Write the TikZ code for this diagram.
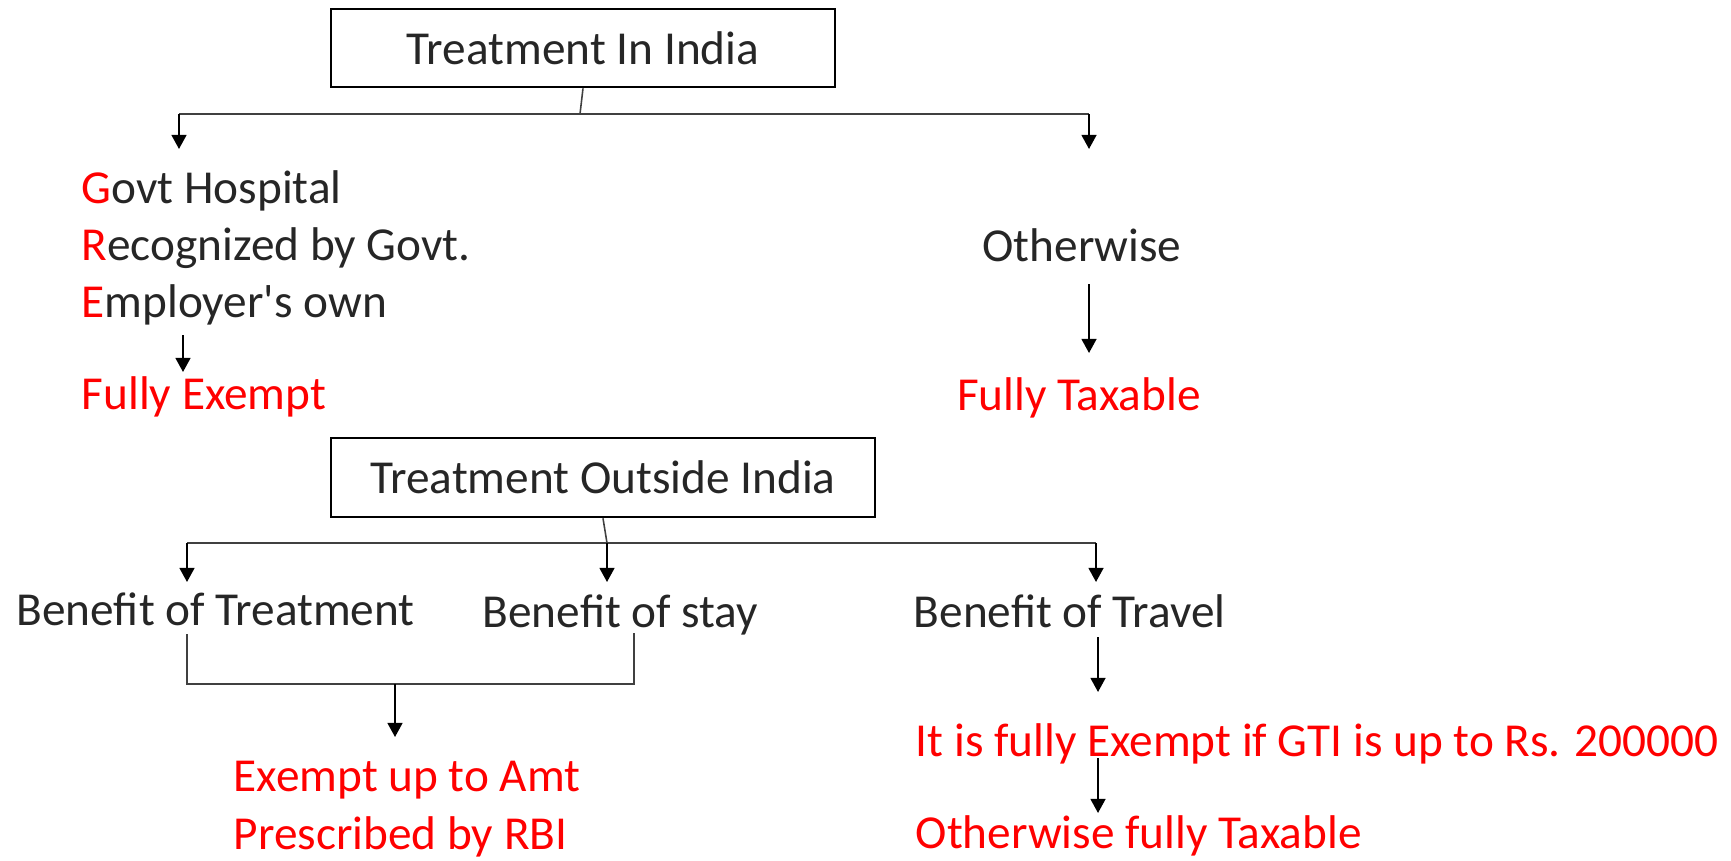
\documentclass[tikz,border=0pt]{standalone}
\usepackage{fontspec}
\setmainfont{Carlito}[Ligatures=TeXOff]
\usetikzlibrary{arrows.meta}
\definecolor{inkgray}{HTML}{262626}
\definecolor{linegray}{HTML}{404040}
\definecolor{hotred}{HTML}{FF0000}
\tikzset{
 headbox/.style={draw=black,line width=0.75pt,inner sep=0pt,text=inkgray},
 lbl/.style={anchor=base west,inner sep=0pt,text=inkgray},
 redlbl/.style={anchor=base west,inner sep=0pt,text=hotred},
 conn/.style={draw=linegray,line width=0.45pt},
 arr/.style={draw=black,line width=0.6pt,-{Triangle[length=4pt,width=4.2pt]}}
}
\begin{document}
\begin{tikzpicture}[x=0.01cm,y=-0.01cm,font=\fontsize{13.45}{16}\selectfont]
\useasboundingbox (0,0) rectangle (1731,860);
% treatment in india
\node[headbox,minimum width=5.04cm,minimum height=0.78cm] (india) at (583,48) {Treatment In India};
\coordinate (indj) at (580,114);
\coordinate (indl) at (179,114);
\coordinate (indr) at (1089,114);
\coordinate (govttip) at (179,149);
\coordinate (othtip) at (1089,149);
\draw[conn] (india.south) -- (indj);
\draw[conn] (indl) -- (indr);
\draw[arr] (indl) -- (govttip);
\draw[arr] (indr) -- (othtip);
\node[lbl] (govt) at (81,203) {\textcolor{hotred}{G}ovt Hospital};
\node[lbl] (recog) at (81,260) {\textcolor{hotred}{R}ecognized by Govt.};
\node[lbl] (emplr) at (81,317) {\textcolor{hotred}{E}mployer's own};
\node[redlbl] (fexempt) at (81,409) {Fully Exempt};
\coordinate (emplrout) at (183,335);
\coordinate (fexemptin) at (183,372);
\draw[arr] (emplrout) -- (fexemptin);
\node[lbl,anchor=base] (othw) at (1082,261) {Otherwise};
\node[redlbl,anchor=base] (ftax) at (1079,410) {Fully Taxable};
\coordinate (othwout) at (1089,284);
\coordinate (ftaxin) at (1089,353);
\draw[arr] (othwout) -- (ftaxin);
% treatment outside india
\node[headbox,minimum width=5.44cm,minimum height=0.79cm] (abroad) at (603,477.5) {Treatment Outside India};
\coordinate (abrj) at (607,543);
\coordinate (abrl) at (187,543);
\coordinate (abrr) at (1096,543);
\draw[conn] (abroad.south) -- (abrj);
\draw[conn] (abrl) -- (abrr);
\draw[arr] (abrl) -- (187,582);
\draw[arr] (abrj) -- (607,582);
\draw[arr] (abrr) -- (1096,582);
\node[lbl] (btreat) at (16,625) {Benefit of Treatment};
\node[lbl] (bstay) at (482,627) {Benefit of stay};
\node[lbl] (btravel) at (913,627) {Benefit of Travel};
% treatment + stay
\coordinate (brl) at (187,634);
\coordinate (brr) at (634,633);
\coordinate (brj) at (395,684);
\coordinate (rbitip) at (395,737);
\draw[conn] (brl) -- (brl |- brj) -- (brr |- brj) -- (brr);
\draw[arr] (brj) -- (rbitip);
\node[redlbl] (rbi1) at (233,791) {Exempt up to Amt};
\node[redlbl] (rbi2) at (233,849) {Prescribed by RBI};
% travel
\coordinate (trvout) at (1098,637);
\coordinate (gtitip) at (1098,692);
\coordinate (gtiout) at (1098,758);
\coordinate (otaxtip) at (1098,813);
\draw[arr] (trvout) -- (gtitip);
\node[redlbl] (gti) at (915,756) {It is fully Exempt if GTI is up to Rs. 200000};
\draw[arr] (gtiout) -- (otaxtip);
\node[redlbl] (otax) at (915,848) {Otherwise fully Taxable};
\end{tikzpicture}
\end{document}
